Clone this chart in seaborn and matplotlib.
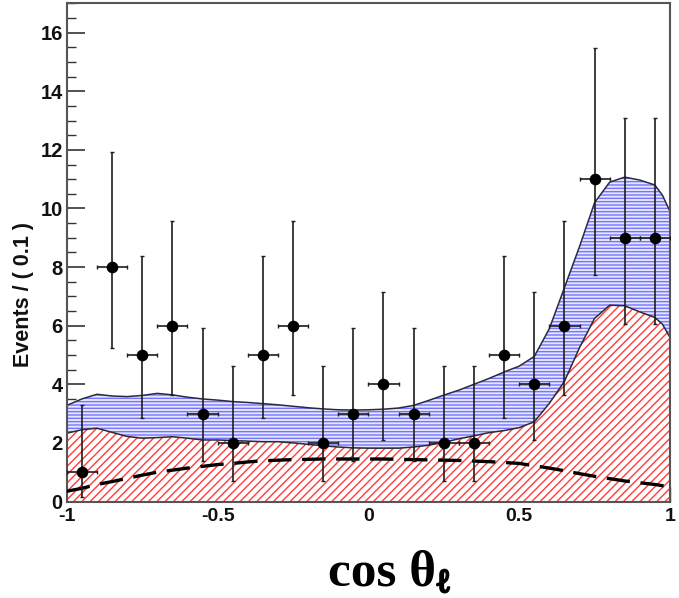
import numpy as np
import pandas as pd
import matplotlib
matplotlib.use("Agg")
import matplotlib.pyplot as plt
import matplotlib.patheffects as pe
from matplotlib.ticker import MultipleLocator, FixedLocator, FixedFormatter
import seaborn as sns

# ---- binned data (bin width 0.1) ----
bin_centers = [-0.95, -0.85, -0.75, -0.65, -0.55, -0.45, -0.35, -0.25, -0.15, -0.05,
               0.05, 0.15, 0.25, 0.35, 0.45, 0.55, 0.65, 0.75, 0.85, 0.95]
counts = [1, 8, 5, 6, 3, 2, 5, 6, 2, 3, 4, 3, 2, 2, 5, 4, 6, 11, 9, 9]
# Poisson 68% interval bounds for each bin
err_low_bound = [0.17, 5.23, 2.84, 3.62, 1.37, 0.71, 2.84, 3.62, 0.71, 1.37,
                 2.09, 1.37, 0.71, 0.71, 2.84, 2.09, 3.62, 7.74, 6.06, 6.06]
err_high_bound = [3.30, 11.94, 8.38, 9.58, 5.92, 4.64, 8.38, 9.58, 4.64, 5.92,
                  7.16, 5.92, 4.64, 4.64, 8.38, 7.16, 9.58, 15.49, 13.10, 13.10]
half_bin = 0.05

# ---- fit projections ----
curve_x = [-1.00, -0.95, -0.90, -0.85, -0.80, -0.75, -0.70, -0.65, -0.60, -0.55,
           -0.50, -0.45, -0.40, -0.35, -0.30, -0.25, -0.20, -0.15, -0.10, -0.05,
           0.00, 0.05, 0.10, 0.15, 0.20, 0.25, 0.30, 0.35, 0.40, 0.45,
           0.50, 0.55, 0.60, 0.65, 0.70, 0.75, 0.80, 0.85, 0.90, 0.95,
           0.975, 1.00]
total_fit = [3.28, 3.50, 3.66, 3.60, 3.58, 3.62, 3.69, 3.64, 3.56, 3.50,
             3.46, 3.41, 3.38, 3.34, 3.30, 3.25, 3.20, 3.16, 3.13, 3.12,
             3.13, 3.15, 3.19, 3.28, 3.45, 3.63, 3.80, 4.00, 4.20, 4.42,
             4.62, 4.95, 5.90, 7.30, 8.70, 10.20, 10.90, 11.07, 10.97, 10.80,
             10.45, 9.90]
background = [2.33, 2.45, 2.50, 2.36, 2.22, 2.16, 2.18, 2.21, 2.16, 2.10,
              2.10, 2.08, 2.06, 2.04, 2.04, 2.00, 1.95, 1.90, 1.86, 1.83,
              1.82, 1.82, 1.82, 1.86, 1.92, 2.02, 2.14, 2.24, 2.35, 2.42,
              2.52, 2.72, 3.35, 4.10, 5.25, 6.25, 6.70, 6.68, 6.47, 6.28,
              6.05, 5.60]
signal_shape = [0.35, 0.45, 0.58, 0.68, 0.79, 0.90, 1.00, 1.07, 1.14, 1.20,
                1.26, 1.30, 1.35, 1.39, 1.41, 1.43, 1.44, 1.45, 1.45, 1.45,
                1.45, 1.45, 1.44, 1.43, 1.42, 1.41, 1.40, 1.38, 1.36, 1.33,
                1.30, 1.22, 1.14, 1.05, 0.95, 0.86, 0.78, 0.70, 0.64, 0.58,
                0.54, 0.50]

x_tick_vals = [-1, -0.5, 0, 0.5, 1]
x_tick_labels = ["-1", "-0.5", "0", "0.5", "1"]
y_tick_vals = [0, 2, 4, 6, 8, 10, 12, 14, 16]
y_tick_labels = ["0", "2", "4", "6", "8", "10", "12", "14", "16"]

curves = pd.DataFrame({"x": curve_x, "total": total_fit,
                       "bkg": background, "sig": signal_shape})
points = pd.DataFrame({"x": bin_centers, "n": counts,
                       "lo": err_low_bound, "hi": err_high_bound})

sns.set_theme(style="white")
plt.rcParams["font.family"] = ["Liberation Sans", "DejaVu Sans"]
plt.rcParams["hatch.linewidth"] = 1.0

W, H = 679, 598
fig = plt.figure(figsize=(W / 100, H / 100), dpi=100)
ax = fig.add_axes([66.8 / W, 1 - 501.5 / H, (670 - 66.8) / W, (501.5 - 2.5) / H])

# total fit: blue horizontal hatch between background and total
ax.fill_between(curves["x"], curves["bkg"], curves["total"],
                facecolor="#e6e6ff", edgecolor="none", linewidth=0, zorder=1)
ax.fill_between(curves["x"], curves["bkg"], curves["total"],
                facecolor="none", edgecolor="#7474ff", hatch="-----",
                linewidth=0, zorder=1.1)
# background component: red diagonal hatch
ax.fill_between(curves["x"], 0, curves["bkg"],
                facecolor="white", edgecolor="none", linewidth=0, zorder=1.2)
ax.fill_between(curves["x"], 0, curves["bkg"],
                facecolor="none", edgecolor="#ff3a3a", hatch="////",
                linewidth=0, zorder=1.3)

sns.lineplot(data=curves, x="x", y="total", ax=ax, color="#2a2a40",
             linewidth=1.1, zorder=2)
sns.lineplot(data=curves, x="x", y="bkg", ax=ax, color="#2a2a30",
             linewidth=1.1, zorder=2)
sns.lineplot(data=curves, x="x", y="sig", ax=ax, color="black",
             linewidth=2.4, dashes=False, zorder=3).lines[-1].set_dashes([7, 3.2])

# data points with Poisson errors
yerr = np.vstack([points["n"] - points["lo"], points["hi"] - points["n"]])
ax.errorbar(points["x"], points["n"], yerr=yerr, xerr=half_bin, fmt="none",
            ecolor="#1e1e1e", elinewidth=1.2, capsize=1.6, capthick=1.0,
            zorder=4)
sns.scatterplot(data=points, x="x", y="n", ax=ax, color="black", s=70,
                edgecolor="black", linewidth=0, zorder=5)

ax.set_xlim(-1, 1)
ax.set_ylim(0, 17.03)

ax.xaxis.set_major_locator(FixedLocator(x_tick_vals))
ax.xaxis.set_major_formatter(FixedFormatter(x_tick_labels))
ax.xaxis.set_minor_locator(MultipleLocator(0.1))
ax.yaxis.set_major_locator(FixedLocator(y_tick_vals))
ax.yaxis.set_major_formatter(FixedFormatter(y_tick_labels))
ax.yaxis.set_minor_locator(MultipleLocator(0.5))

ax.tick_params(axis="x", which="major", direction="in", length=11, width=1.0,
               color="#333333", pad=5, labelsize=14, bottom=True, top=False)
ax.tick_params(axis="x", which="minor", direction="in", length=5, width=1.0,
               color="#333333", bottom=True, top=False)
ax.tick_params(axis="y", which="major", direction="in", length=13, width=1.2,
               color="#333333", pad=3, labelsize=14.5, left=True, right=False)
ax.tick_params(axis="y", which="minor", direction="in", length=6.5, width=1.0,
               color="#333333", left=True, right=False)
for lbl in ax.get_xticklabels() + ax.get_yticklabels():
    lbl.set_fontweight("bold")
    lbl.set_color("#111111")

for side in ["left", "right", "top", "bottom"]:
    ax.spines[side].set_visible(True)
    ax.spines[side].set_color("#555555")
    ax.spines[side].set_linewidth(1.5)

ax.set_xlabel("")
ax.set_ylabel("Events / ( 0.1 )", fontsize=15.5, fontweight="bold",
              color="#111111", va="center")
ax.yaxis.set_label_coords(-0.071, 0.414)

serif = ["Liberation Serif", "DejaVu Serif"]
fig.text(328 / W, 1 - 585 / H, "cos θ", family=serif, fontweight="bold",
         fontsize=37, ha="left", va="baseline", color="black")
fig.text(437 / W, 1 - 592 / H, "ℓ", family=serif, fontweight="bold",
         fontsize=24, ha="left", va="baseline", color="black",
         path_effects=[pe.withStroke(linewidth=1.6, foreground="black")])

fig.savefig("out.png", dpi=100)
